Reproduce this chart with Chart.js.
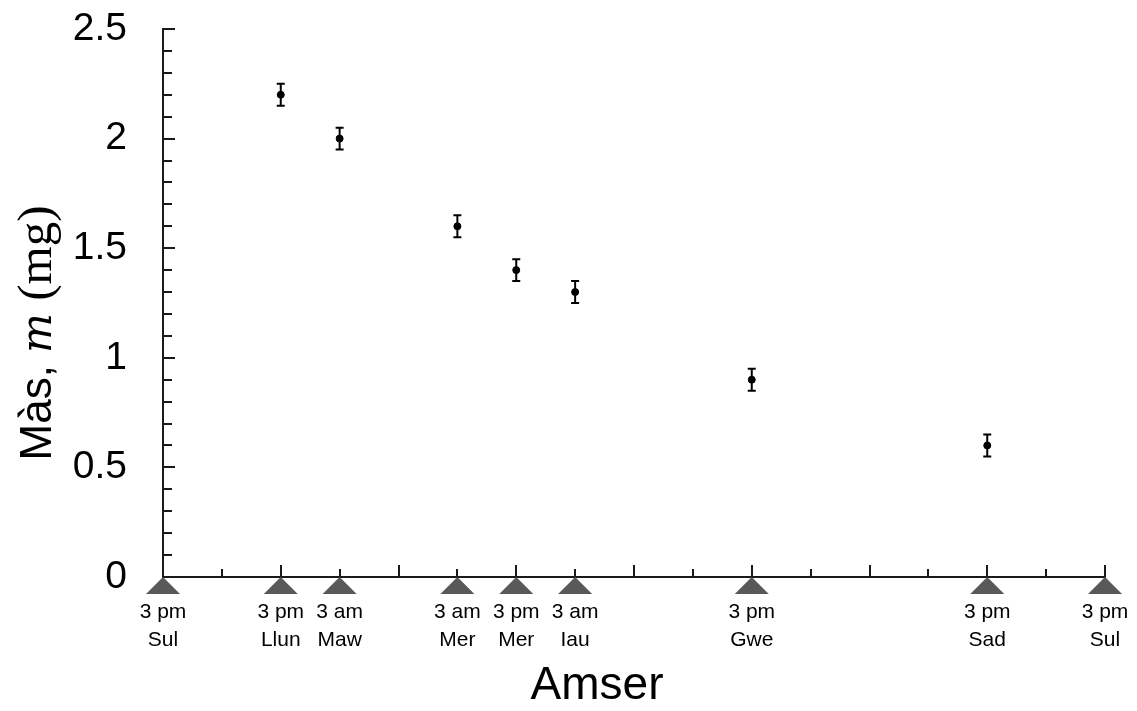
<!DOCTYPE html>
<html>
<head>
<meta charset="utf-8">
<script src="https://cdn.jsdelivr.net/npm/chart.js@4"></script>
<style>
html,body{margin:0;padding:0;background:#fff;}
canvas{display:block;}
</style>
</head>
<body>
<canvas id="c" width="1137" height="711"></canvas>
<script>
// Data
const timePositions = [2, 3, 5, 6, 7, 10, 14];
const masses = [2.2, 2.0, 1.6, 1.4, 1.3, 0.9, 0.6];
const massErrors = [0.05, 0.05, 0.05, 0.05, 0.05, 0.05, 0.05];

// Tick labels
const labelPositions = [0, 2, 3, 5, 6, 7, 10, 14, 16];
const labelTimes = ['3 pm', '3 pm', '3 am', '3 am', '3 pm', '3 am', '3 pm', '3 pm', '3 pm'];
const labelDays = ['Sul', 'Llun', 'Maw', 'Mer', 'Mer', 'Iau', 'Gwe', 'Sad', 'Sul'];
const yTickLabels = ['0', '0.5', '1', '1.5', '2', '2.5'];

const xTitle = 'Amser';
const yTitleParts = ['Màs, ', 'm', ' (mg)'];

const SANS = '"Liberation Sans", Arial, sans-serif';
const SERIF = '"Liberation Serif", "DejaVu Serif", serif';
const AXIS_COLOR = '#1a1a1a';

const points = timePositions.map((x, i) => ({x: x, y: masses[i]}));

const isHalf = v => Math.abs(v * 2 - Math.round(v * 2)) < 1e-6;

const decorPlugin = {
  id: 'decor',
  afterDatasetsDraw(chart) {
    const ctx = chart.ctx;
    const xs = chart.scales.x, ys = chart.scales.y;
    ctx.save();
    ctx.strokeStyle = '#000';
    ctx.lineWidth = 2;
    timePositions.forEach((x, i) => {
      const px = xs.getPixelForValue(x);
      const pTop = ys.getPixelForValue(masses[i] + massErrors[i]);
      const pBot = ys.getPixelForValue(masses[i] - massErrors[i]);
      ctx.beginPath();
      ctx.moveTo(px, pTop); ctx.lineTo(px, pBot);
      ctx.moveTo(px - 4, pTop); ctx.lineTo(px + 4, pTop);
      ctx.moveTo(px - 4, pBot); ctx.lineTo(px + 4, pBot);
      ctx.stroke();
    });
    ctx.restore();
  },
  afterDraw(chart) {
    const ctx = chart.ctx;
    const xs = chart.scales.x, ys = chart.scales.y;
    const area = chart.chartArea;
    ctx.save();
    ctx.strokeStyle = AXIS_COLOR;
    ctx.lineWidth = 2;
    ys.ticks.forEach(t => {
      const py = Math.round(ys.getPixelForValue(t.value));
      const len = isHalf(t.value) ? 12 : 9;
      ctx.beginPath();
      ctx.moveTo(area.left, py); ctx.lineTo(area.left + len, py);
      ctx.stroke();
    });
    xs.ticks.forEach(t => {
      if (t.value === 0) return;
      const px = Math.round(xs.getPixelForValue(t.value));
      const len = (Math.round(t.value) % 2 === 0) ? 12 : 8;
      ctx.beginPath();
      ctx.moveTo(px, area.bottom); ctx.lineTo(px, area.bottom - len);
      ctx.stroke();
    });
    ctx.fillStyle = '#595959';
    labelPositions.forEach(v => {
      const px = xs.getPixelForValue(v);
      const b = area.bottom;
      ctx.beginPath();
      ctx.moveTo(px, b);
      ctx.lineTo(px - 17, b + 17);
      ctx.lineTo(px + 17, b + 17);
      ctx.closePath();
      ctx.fill();
    });
    ctx.fillStyle = '#000';
    ctx.font = '46px ' + SANS;
    ctx.textAlign = 'center';
    ctx.textBaseline = 'alphabetic';
    ctx.fillText(xTitle, 597, 699);
    const fonts = ['44px ' + SANS, 'italic 42px "DejaVu Serif", ' + SERIF, '49px ' + SERIF];
    const widths = yTitleParts.map((s, i) => { ctx.font = fonts[i]; return ctx.measureText(s).width; });
    const total = widths.reduce((a, b) => a + b, 0);
    ctx.translate(51, 333);
    ctx.rotate(-Math.PI / 2);
    ctx.textAlign = 'left';
    let cx = -total / 2;
    yTitleParts.forEach((s, i) => {
      ctx.font = fonts[i];
      ctx.fillText(s, cx, 0);
      cx += widths[i];
    });
    ctx.restore();
  }
};

new Chart(document.getElementById('c'), {
  type: 'scatter',
  data: {
    datasets: [{
      data: points,
      backgroundColor: '#000',
      borderColor: '#000',
      pointRadius: 3.5,
      pointHoverRadius: 3.5,
      showLine: false
    }]
  },
  options: {
    responsive: false,
    animation: false,
    devicePixelRatio: 1,
    layout: {padding: {left: 0, right: 32, top: 29, bottom: 0}},
    plugins: {legend: {display: false}, tooltip: {enabled: false}},
    scales: {
      x: {
        type: 'linear',
        min: 0, max: 16,
        grid: {display: false, drawTicks: false},
        border: {display: true, color: AXIS_COLOR, width: 2},
        afterFit(scale) { scale.height = 134; scale.paddingLeft = 0; scale.paddingRight = 0; },
        ticks: {
          stepSize: 1,
          autoSkip: false,
          maxRotation: 0,
          padding: 21,
          color: '#000',
          font: {family: SANS, size: 21, lineHeight: 1.33},
          callback(v) {
            const i = labelPositions.indexOf(v);
            return i >= 0 ? [labelTimes[i], labelDays[i]] : '';
          }
        }
      },
      y: {
        type: 'linear',
        min: 0, max: 2.5,
        grid: {display: false, drawTicks: false},
        border: {display: true, color: AXIS_COLOR, width: 2},
        afterFit(scale) { scale.width = 163; scale.paddingTop = 0; scale.paddingBottom = 0; },
        ticks: {
          stepSize: 0.1,
          autoSkip: false,
          padding: 36,
          color: '#000',
          font: {family: SANS, size: 39},
          callback(v) {
            if (!isHalf(v)) return '';
            return yTickLabels[Math.round(v * 2)];
          }
        }
      }
    }
  },
  plugins: [decorPlugin]
});
</script>
</body>
</html>
